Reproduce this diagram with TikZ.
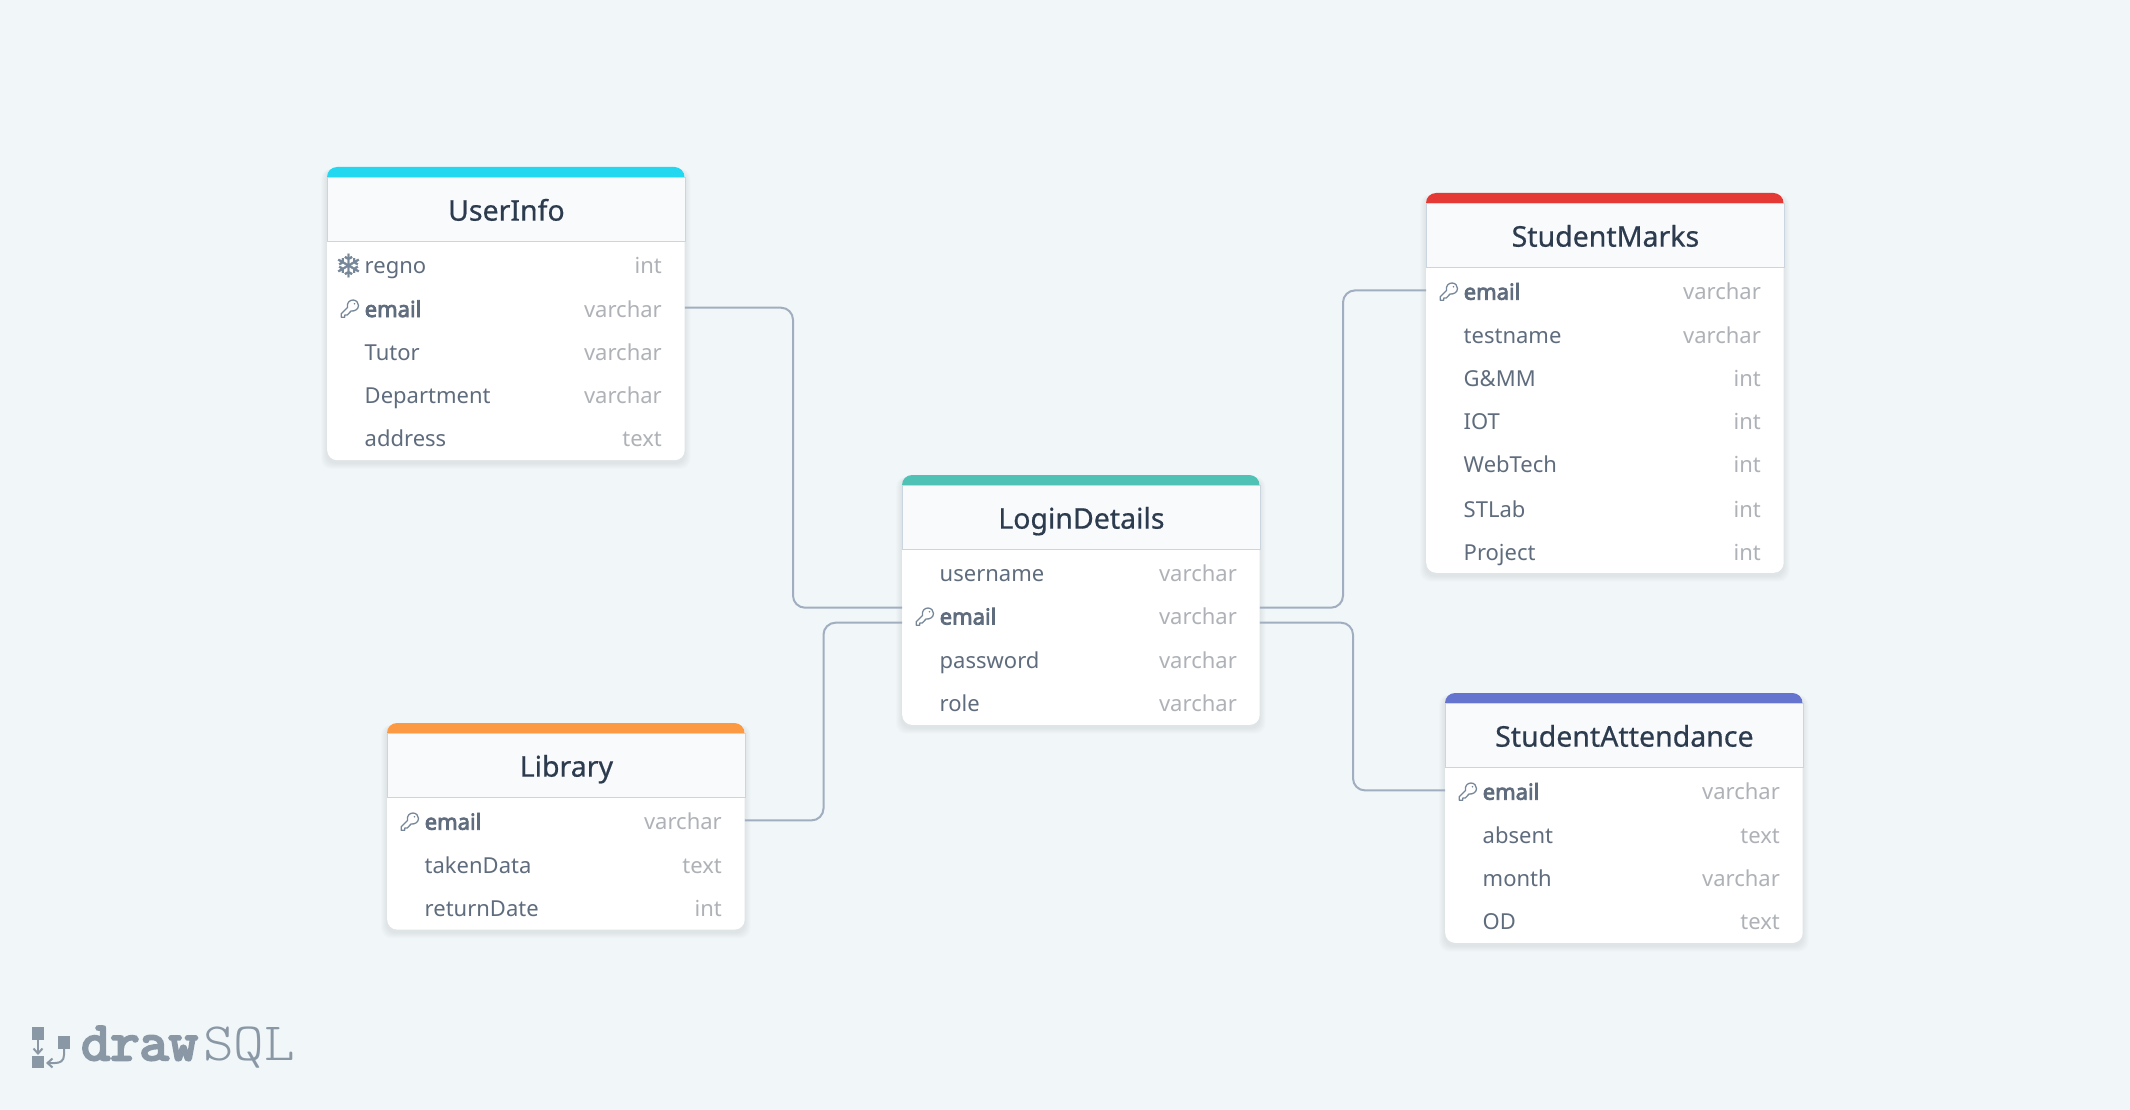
\documentclass[tikz,border=0pt]{standalone}
\usepackage{fontspec}
\setmainfont{Noto Sans}
\newfontfamily\fieldbold[FakeBold=3.5]{Noto Sans}
\newfontfamily\titlefont[FakeBold=.6]{Noto Sans}
\newfontfamily\symbolfont[FakeBold=1]{DejaVu Sans}
\newfontfamily\logodark[FakeBold=4.5]{Latin Modern Mono}
\newfontfamily\logolight{Latin Modern Mono Light}
\definecolor{canvas}{HTML}{F1F6F9}
\definecolor{headfill}{HTML}{F8FAFC}
\definecolor{headline}{HTML}{CBD5E0}
\definecolor{relline}{HTML}{A0AEC0}
\definecolor{titleink}{HTML}{2D3B4E}
\definecolor{fieldink}{HTML}{5F6C7D}
\definecolor{typeink}{HTML}{AEB2B7}
\definecolor{iconink}{HTML}{77879A}
\definecolor{logoink}{HTML}{8A98A6}
\definecolor{barcyan}{HTML}{22D7F0}
\definecolor{barteal}{HTML}{4FC2B5}
\definecolor{barorange}{HTML}{FB9A42}
\definecolor{barred}{HTML}{E53935}
\definecolor{barindigo}{HTML}{6574CF}
\usetikzlibrary{calc, positioning, arrows.meta}
\tikzset{
  cardbox/.style={fill=white, rounded corners=10pt, minimum width=357.5pt, inner sep=0pt},
  titlebox/.style={fill=headfill, draw=headline, line width=1.3pt, minimum width=357.5pt, minimum height=64pt,
    inner sep=0pt, text=titleink, text height=26pt, text depth=4pt, font=\titlefont\fontsize{28.5}{34}\selectfont},
  fieldname/.style={text=fieldink, inner sep=0pt, text height=22pt, text depth=3.4pt, font=\fontsize{22}{26}\selectfont},
  fieldtype/.style={text=typeink, inner sep=0pt, text height=22pt, text depth=3.4pt, font=\fontsize{22}{26}\selectfont},
  relation/.style={draw=relline, line width=2pt, rounded corners=12pt},
  logoarrow/.style={draw=logoink, line width=2pt, -{Straight Barb[length=5pt, width=9pt]}},
}
\newcommand{\erdcard}[6]{
  \foreach \s in {1,...,6}
    \fill[black, opacity=.012, rounded corners=10pt] (#2-\s, #3+2) rectangle (#2+357.5+\s, #3+79.5+#4*43.3+\s);
  \node[cardbox, anchor=north west, minimum height={76.5pt+#4*43.3pt}] (#1) at (#2, #3) {};
  \fill[#5] (#2, #3+10) [rounded corners=10pt] -- (#2, #3) -- (#2+357.5, #3) [sharp corners] -- (#2+357.5, #3+10) -- cycle;
  \node[titlebox, anchor=north west] (#1-title) at (#2, #3+10) {#6};
}
\newcommand{\erdrow}[5]{
  \node[fieldname, anchor=west] (#1) at (#2+37.5, #3) {#4};
  \node[fieldtype, anchor=east] (#1-type) at (#2+335, #3) {#5};
}
\newcommand{\keyicon}[2]{
  \begin{scope}[shift={(#1, #2)}, draw=iconink, line width=1.3pt, line join=round]
    \draw (-.97,-1.57) .. controls (-2,-6) and (1,-9) .. (4.5,-9) .. controls (8,-9) and (10,-6) .. (10,-3.5)
      .. controls (10,0) and (6.5,2.5) .. (2.57,1.97) -- (-1.2,6) -- (-3.8,6) -- (-3.8,8.3) -- (-7.3,8.3) -- (-7.3,4.8) -- cycle;
    \fill[iconink] (6,-5.2) circle (.9);
  \end{scope}
}
\begin{document}
\begin{tikzpicture}[x=1pt, y=-1pt]
  \useasboundingbox (0,0) rectangle (2130,1110);
  \fill[canvas] (0,0) rectangle (2130,1110);

  % UserInfo
  \erdcard{userinfo}{327}{167}{5}{barcyan}{UserInfo}
  \erdrow{userinfo-regno}{327}{264.4}{regno}{int}
  \erdrow{userinfo-email}{327}{307.7}{{\fieldbold email}}{varchar}
  \erdrow{userinfo-tutor}{327}{351}{Tutor}{varchar}
  \erdrow{userinfo-department}{327}{394.3}{Department}{varchar}
  \erdrow{userinfo-address}{327}{437.6}{address}{text}
  \node[text=iconink, inner sep=0pt, font=\symbolfont\fontsize{32}{32}\selectfont] (userinfo-snow) at (348.5,265.5) {❄};
  \keyicon{348.5}{309}

  % Library
  \erdcard{library}{387}{723}{3}{barorange}{Library}
  \erdrow{library-email}{387}{820.4}{{\fieldbold email}}{varchar}
  \erdrow{library-taken}{387}{863.7}{takenData}{text}
  \erdrow{library-return}{387}{907}{returnDate}{int}
  \keyicon{408.5}{822}

  % LoginDetails
  \erdcard{login}{902}{475}{4}{barteal}{LoginDetails}
  \erdrow{login-username}{902}{572.4}{username}{varchar}
  \erdrow{login-email}{902}{615.2}{{\fieldbold email}}{varchar}
  \erdrow{login-password}{902}{659}{password}{varchar}
  \erdrow{login-role}{902}{702.3}{role}{varchar}
  \keyicon{923.5}{617}

  % StudentMarks
  \erdcard{marks}{1426}{193}{7}{barred}{StudentMarks}
  \erdrow{marks-email}{1426}{290.4}{{\fieldbold email}}{varchar}
  \erdrow{marks-testname}{1426}{333.7}{testname}{varchar}
  \erdrow{marks-gmm}{1426}{377}{G\&MM}{int}
  \erdrow{marks-iot}{1426}{420.3}{IOT}{int}
  \erdrow{marks-webtech}{1426}{463.6}{WebTech}{int}
  \erdrow{marks-stlab}{1426}{507.9}{STLab}{int}
  \erdrow{marks-project}{1426}{551.2}{Project}{int}
  \keyicon{1447.5}{292}

  % StudentAttendance
  \erdcard{attendance}{1445}{693}{4}{barindigo}{StudentAttendance}
  \erdrow{attendance-email}{1445}{790.4}{{\fieldbold email}}{varchar}
  \erdrow{attendance-absent}{1445}{833.7}{absent}{text}
  \erdrow{attendance-month}{1445}{877}{month}{varchar}
  \erdrow{attendance-od}{1445}{920.3}{OD}{text}
  \keyicon{1466.5}{792}

  % Relations
  \coordinate (login-wa) at ($(login.west |- login-email)+(0,-7.5)$);
  \coordinate (login-wb) at ($(login.west |- login-email)+(0,7.5)$);
  \coordinate (login-ea) at ($(login.east |- login-email)+(0,-7.5)$);
  \coordinate (login-eb) at ($(login.east |- login-email)+(0,7.5)$);
  \draw[relation] (userinfo.east |- userinfo-email) -| (793,607.7) -- (login-wa);
  \draw[relation] (library.east |- library-email) -- (823.5,820.4) -- (823.5,622.7) -- (login-wb);
  \draw[relation] (login-ea) -- (1343,607.7) -- (1343,290.4) -- (marks.west |- marks-email);
  \draw[relation] (login-eb) -- (1353,622.7) -- (1353,790.4) -- (attendance.west |- attendance-email);

  % Logo
  \fill[logoink] (32,1027) rectangle (44,1040);
  \fill[logoink] (32,1056) rectangle (44,1068);
  \fill[logoink] (58,1036) rectangle (70,1049);
  \coordinate (logo-a) at (38,1040);
  \coordinate (logo-b) at (38,1055);
  \coordinate (logo-c) at (64,1049);
  \coordinate (logo-d) at (46,1063);
  \draw[logoarrow] (logo-a) -- (logo-b);
  \draw[logoarrow] (logo-c) -- (64,1055) .. controls (64,1061) and (60,1063) .. (55,1063) -- (logo-d);
  \node[anchor=base west, inner sep=0pt, xscale=1.03, text=logoink, font=\logodark\fontsize{55}{55}\selectfont] (logo-draw) at (81,1060) {draw};
  \node[anchor=base west, inner sep=0pt, xscale=1.08, text=logoink, font=\logolight\fontsize{54}{54}\selectfont] (logo-sql) at (203,1060) {SQL};
\end{tikzpicture}
\end{document}
